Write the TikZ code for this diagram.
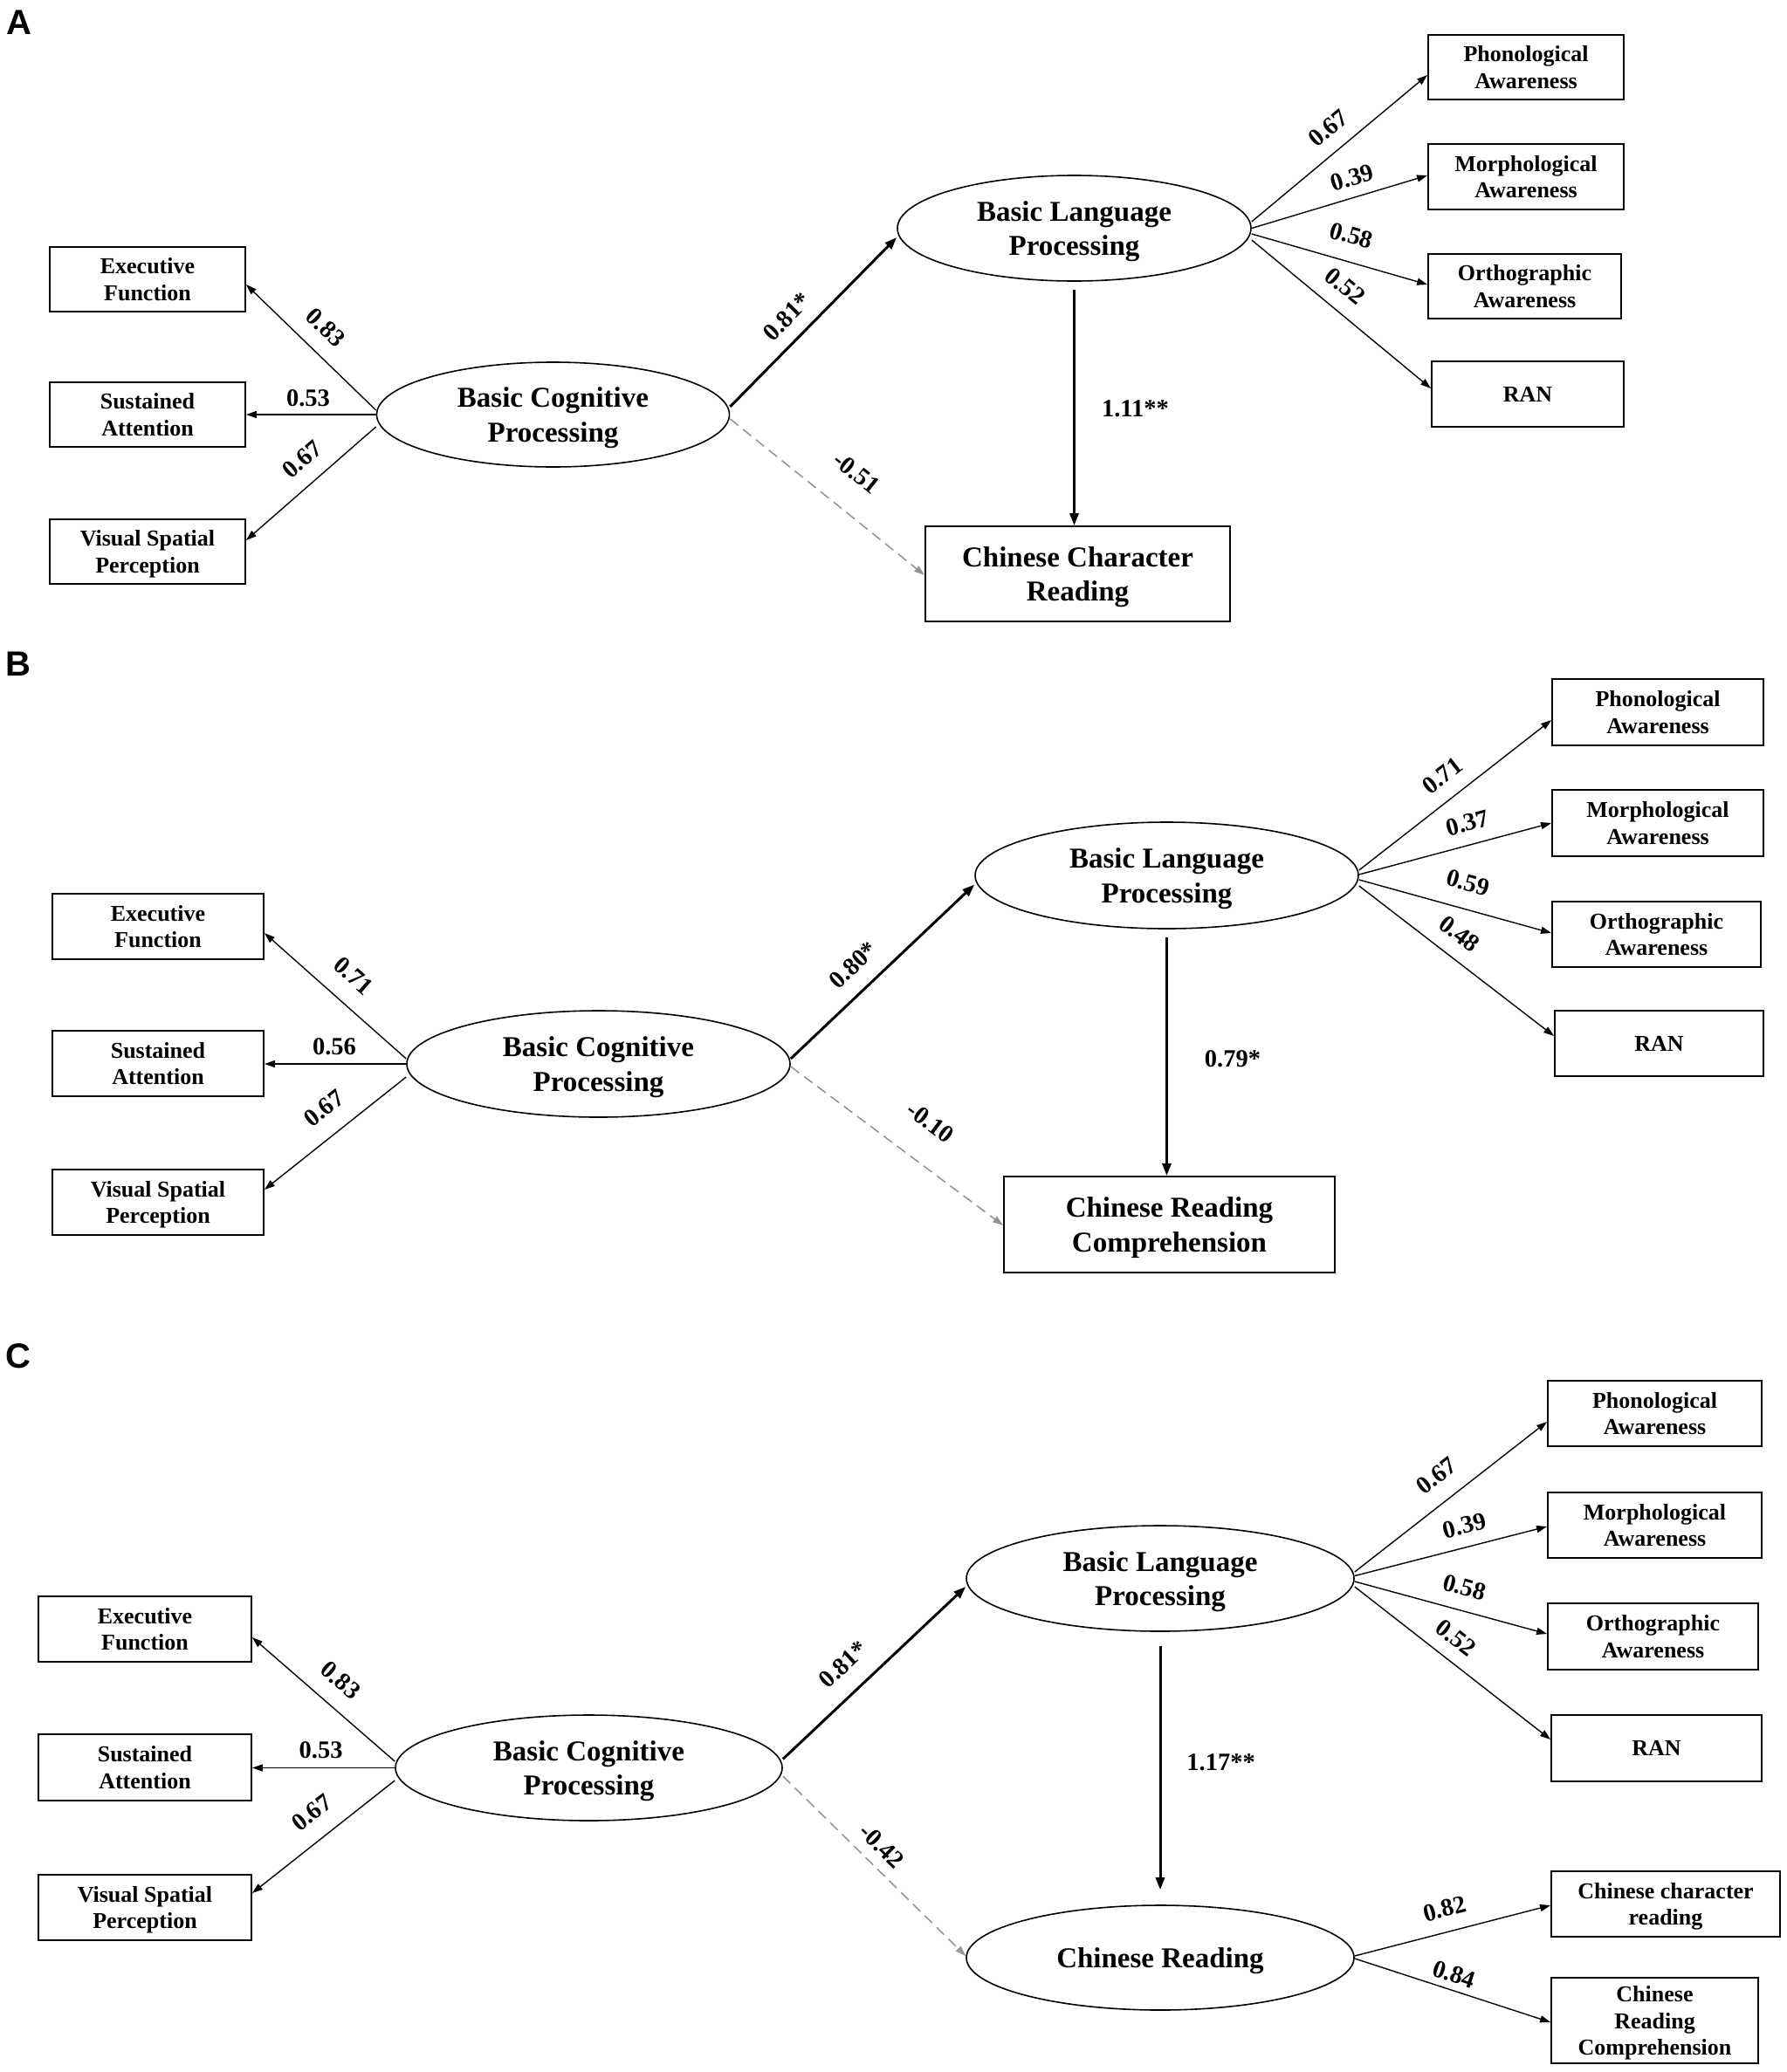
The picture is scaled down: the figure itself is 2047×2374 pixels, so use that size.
\documentclass[tikz,border=0pt]{standalone}
\usepackage{fontspec}
\setmainfont{Liberation Serif}
\newfontfamily\panelfont{Liberation Sans}
\usetikzlibrary{shapes.geometric,arrows.meta}
\definecolor{dashgray}{RGB}{150,150,150}
\tikzset{
 obsbox/.style={draw, line width=1.8pt, inner sep=0pt, align=center, text depth=0pt, font=\fontsize{26}{30.5}\selectfont\bfseries},
 outbox/.style={draw, line width=1.8pt, inner sep=0pt, align=center, text depth=0pt, font=\fontsize{33}{39.5}\selectfont\bfseries},
 latent/.style={draw, ellipse, line width=1.6pt, inner sep=0pt, align=center, text depth=0pt, font=\fontsize{33}{39.5}\selectfont\bfseries},
 coef/.style={inner sep=0pt, font=\fontsize{28.5}{30}\selectfont\bfseries},
 panelletter/.style={inner sep=0pt, font=\fontsize{40}{40}\selectfont\panelfont\bfseries},
 loadarrow/.style={line width=1.4pt, -{Triangle[length=12pt,width=8pt]}},
 strongarrow/.style={line width=3pt, -{Triangle[length=14pt,width=10pt]}},
 nsarrow/.style={line width=1.6pt, draw=dashgray, dash pattern=on 12pt off 7pt, -{Triangle[length=12pt,width=8pt,fill=dashgray]}},
}
\begin{document}
\begin{tikzpicture}[x=1pt,y=-1pt]
\useasboundingbox (0,0) rectangle (2047,2374);
%%%%%%%%%%%%%%%% Panel A
\node[panelletter] (lblA) at (22,25.6) {A};
\node[obsbox, minimum width=224pt, minimum height=74pt] (ExA) at (169,320) {Executive\\Function};
\node[obsbox, minimum width=224pt, minimum height=74pt] (SuA) at (169,475) {Sustained\\Attention};
\node[obsbox, minimum width=224pt, minimum height=74pt] (ViA) at (169,632) {Visual Spatial\\Perception};
\node[latent, minimum width=404pt, minimum height=120pt] (BCPA) at (633.5,475) {Basic Cognitive\\Processing};
\node[latent, minimum width=405pt, minimum height=121pt] (BLPA) at (1230.5,261.5) {Basic Language\\Processing};
\node[outbox, minimum width=349pt, minimum height=109pt] (CCRA) at (1234.5,657.5) {Chinese Character\\Reading};
\node[obsbox, minimum width=224pt, minimum height=74pt] (PhA) at (1748,77) {Phonological\\Awareness};
\node[obsbox, minimum width=224pt, minimum height=75pt] (MoA) at (1748,202.5) {Morphological\\Awareness};
\node[obsbox, minimum width=221pt, minimum height=74pt] (OrA) at (1746.5,328) {Orthographic\\Awareness};
\node[obsbox, minimum width=220pt, minimum height=75pt] (RaA) at (1750,451.5) {RAN};

\draw[loadarrow] ([yshift=5pt]BCPA.west) -- ([yshift=-6pt]ExA.east);
\draw[loadarrow] (BCPA.west) -- (BCPA.west -| SuA.east);
\draw[loadarrow] ([yshift=-14pt]BCPA.west) -- ([yshift=13pt]ViA.east);
\draw[strongarrow] ([yshift=9pt]BCPA.east) -- ([yshift=-10.5pt]BLPA.west);
\draw[nsarrow] ([yshift=-5pt]BCPA.east) -- ([yshift=-1.5pt]CCRA.west);
\draw[strongarrow] ([yshift=-9pt]BLPA.south) -- (BLPA.south |- CCRA.north);
\draw[loadarrow] ([yshift=7.5pt]BLPA.east) -- ([yshift=-9pt]PhA.west);
\draw[loadarrow] (BLPA.east) -- ([yshift=1.5pt]MoA.west);
\draw[loadarrow] ([yshift=-6.5pt]BLPA.east) -- ([yshift=2pt]OrA.west);
\draw[loadarrow] ([yshift=-13.5pt]BLPA.east) -- ([yshift=6.5pt]RaA.west);

\node[coef, rotate=-43.8] (cA1) at (373,375) {0.83};
\node[coef] (cA2) at (353,456) {0.53};
\node[coef, rotate=40.9] (cA3) at (346,526) {0.67};
\node[coef, rotate=45.3] (cA4) at (901.5,363) {0.81*};
\node[coef, rotate=-38.6] (cA5) at (981,542) {-0.51};
\node[coef] (cA6) at (1300.5,468) {1.11**};
\node[coef, rotate=39.6] (cA7) at (1521.5,146.7) {0.67};
\node[coef, rotate=16.5] (cA8) at (1549,203.5) {0.39};
\node[coef, rotate=-15.9] (cA9) at (1548,270) {0.58};
\node[coef, rotate=-39.4] (cA10) at (1541,328) {0.52};

%%%%%%%%%%%%%%%% Panel B
\node[panelletter] (lblB) at (21,761) {B};
\node[obsbox, minimum width=242pt, minimum height=75pt] (ExB) at (181,1061.5) {Executive\\Function};
\node[obsbox, minimum width=242pt, minimum height=75pt] (SuB) at (181,1218.5) {Sustained\\Attention};
\node[obsbox, minimum width=242pt, minimum height=75pt] (ViB) at (181,1377.5) {Visual Spatial\\Perception};
\node[latent, minimum width=439pt, minimum height=122pt] (BCPB) at (685.5,1219) {Basic Cognitive\\Processing};
\node[latent, minimum width=439pt, minimum height=122pt] (BLPB) at (1336.5,1003) {Basic Language\\Processing};
\node[outbox, minimum width=379pt, minimum height=110pt] (CRCB) at (1339.5,1403) {Chinese Reading\\Comprehension};
\node[obsbox, minimum width=242pt, minimum height=76pt] (PhB) at (1899,816) {Phonological\\Awareness};
\node[obsbox, minimum width=242pt, minimum height=76pt] (MoB) at (1899,943) {Morphological\\Awareness};
\node[obsbox, minimum width=239pt, minimum height=75pt] (OrB) at (1897.5,1070.5) {Orthographic\\Awareness};
\node[obsbox, minimum width=239pt, minimum height=75pt] (RaB) at (1900.5,1195.5) {RAN};

\draw[loadarrow] ([yshift=6pt]BCPB.west) -- ([yshift=-7.5pt]ExB.east);
\draw[loadarrow] (BCPB.west) -- (BCPB.west -| SuB.east);
\draw[loadarrow] ([yshift=-15pt]BCPB.west) -- ([yshift=14.5pt]ViB.east);
\draw[strongarrow] ([yshift=6pt]BCPB.east) -- ([yshift=-10.5pt]BLPB.west);
\draw[nsarrow] ([yshift=-3pt]BCPB.east) -- ([yshift=-1pt]CRCB.west);
\draw[strongarrow] ([yshift=-9pt]BLPB.south) -- (BLPB.south |- CRCB.north);
\draw[loadarrow] ([yshift=6pt]BLPB.east) -- ([yshift=-9pt]PhB.west);
\draw[loadarrow] ([yshift=1pt]BLPB.east) -- (MoB.west);
\draw[loadarrow] ([yshift=-5pt]BLPB.east) -- ([yshift=1.5pt]OrB.west);
\draw[loadarrow] ([yshift=-12pt]BLPB.east) -- ([yshift=8.5pt]RaB.west);

\node[coef, rotate=-41.3] (cB1) at (405,1118) {0.71};
\node[coef] (cB2) at (383,1199.7) {0.56};
\node[coef, rotate=38.1] (cB3) at (371,1270) {0.67};
\node[coef, rotate=43.5] (cB4) at (977.5,1105.6) {0.80*};
\node[coef, rotate=-36.7] (cB5) at (1066,1286) {-0.10};
\node[coef] (cB6) at (1412,1213) {0.79*};
\node[coef, rotate=37.8] (cB7) at (1652,888.5) {0.71};
\node[coef, rotate=14.9] (cB8) at (1681,943) {0.37};
\node[coef, rotate=-15.6] (cB9) at (1681.7,1011.6) {0.59};
\node[coef, rotate=-37.4] (cB10) at (1672,1070) {0.48};

%%%%%%%%%%%%%%%% Panel C
\node[panelletter] (lblC) at (21,1554) {C};
\node[obsbox, minimum width=244pt, minimum height=75pt] (ExC) at (166,1866.5) {Executive\\Function};
\node[obsbox, minimum width=244pt, minimum height=76pt] (SuC) at (166,2025) {Sustained\\Attention};
\node[obsbox, minimum width=244pt, minimum height=75pt] (ViC) at (166,2185.5) {Visual Spatial\\Perception};
\node[latent, minimum width=443pt, minimum height=121pt] (BCPC) at (674.5,2025.5) {Basic Cognitive\\Processing};
\node[latent, minimum width=444pt, minimum height=121pt] (BLPC) at (1329,1808.5) {Basic Language\\Processing};
\node[latent, minimum width=444pt, minimum height=120pt] (CRE) at (1329,2243) {Chinese Reading};
\node[obsbox, minimum width=245pt, minimum height=75pt] (PhC) at (1895.5,1619.5) {Phonological\\Awareness};
\node[obsbox, minimum width=245pt, minimum height=75pt] (MoC) at (1895.5,1747.5) {Morphological\\Awareness};
\node[obsbox, minimum width=241pt, minimum height=76pt] (OrC) at (1893.5,1875) {Orthographic\\Awareness};
\node[obsbox, minimum width=241pt, minimum height=76pt] (RaC) at (1897.5,2003) {RAN};
\node[obsbox, minimum width=262pt, minimum height=75pt] (CcrC) at (1908,2181.5) {Chinese character\\reading};
\node[obsbox, minimum width=237pt, minimum height=98pt] (CrcC) at (1895.5,2315) {Chinese\\Reading\\Comprehension};

\draw[loadarrow] ([yshift=7.5pt]BCPC.west) -- ([yshift=-9.5pt]ExC.east);
\draw[loadarrow] (BCPC.west) -- (BCPC.west -| SuC.east);
\draw[loadarrow] ([yshift=-14.5pt]BCPC.west) -- ([yshift=16.5pt]ViC.east);
\draw[strongarrow] ([yshift=10pt]BCPC.east) -- ([yshift=-9.5pt]BLPC.west);
\draw[nsarrow] ([yshift=-9.5pt]BCPC.east) -- ([yshift=2pt]CRE.west);
\draw[strongarrow] ([yshift=-16pt]BLPC.south) -- ([yshift=17pt]CRE.north);
\draw[loadarrow] ([yshift=7.5pt]BLPC.east) -- ([yshift=-9.5pt]PhC.west);
\draw[loadarrow] ([yshift=3pt]BLPC.east) -- ([yshift=-1.5pt]MoC.west);
\draw[loadarrow] ([yshift=-3.5pt]BLPC.east) -- ([yshift=3pt]OrC.west);
\draw[loadarrow] ([yshift=-9.5pt]BLPC.east) -- ([yshift=10pt]RaC.west);
\draw[loadarrow] ([yshift=2pt]CRE.east) -- ([yshift=-1.5pt]CcrC.west);
\draw[loadarrow] ([yshift=-1pt]CRE.east) -- ([yshift=-2pt]CrcC.west);

\node[coef, rotate=-40.7] (cC1) at (390,1925) {0.83};
\node[coef] (cC2) at (367.6,2005) {0.53};
\node[coef, rotate=38] (cC3) at (357,2077) {0.67};
\node[coef, rotate=43.1] (cC4) at (966,1907) {0.81*};
\node[coef, rotate=-44.3] (cC5) at (1010,2115) {-0.42};
\node[coef] (cC6) at (1398.6,2019.5) {1.17**};
\node[coef, rotate=37.8] (cC7) at (1645.7,1690.6) {0.67};
\node[coef, rotate=14.3] (cC8) at (1677.7,1748) {0.39};
\node[coef, rotate=-15.1] (cC9) at (1677.7,1818.8) {0.58};
\node[coef, rotate=-37.8] (cC10) at (1668,1876.8) {0.52};
\node[coef, rotate=14.4] (cC11) at (1655,2187) {0.82};
\node[coef, rotate=-18.1] (cC12) at (1665.7,2262) {0.84};
\end{tikzpicture}
\end{document}
